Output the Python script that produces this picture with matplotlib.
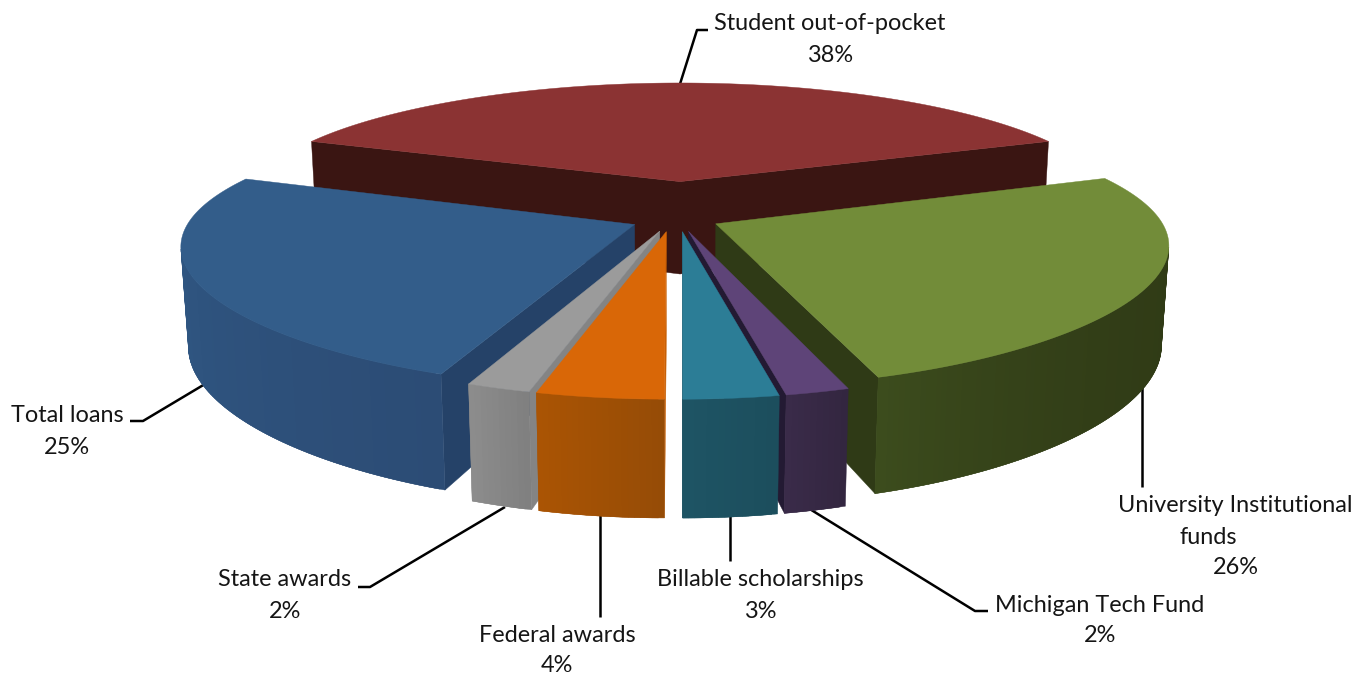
import numpy as np
import matplotlib
matplotlib.use("Agg")
import matplotlib.pyplot as plt
from matplotlib.colors import to_rgb

# Share of funding by source, clockwise from the back of the pie
categories = ["Student out-of-pocket", "University Institutional funds", "Michigan Tech Fund",
              "Billable scholarships", "Federal awards", "State awards", "Total loans"]
shares = [38, 26, 2, 3, 4, 2, 25]

# Appearance of each slice
explode = [0.30, 0.095, 0.10, 0.10, 0.10, 0.10, 0.115]
sideways = [0.0, -0.006, -0.006, -0.004, -0.018, -0.014, 0.004]
top_colors = ["#8B3333", "#728C39", "#5E4478", "#2C7D96", "#D96707", "#9B9B9B", "#335D8A"]
wall_colors = ["#3A1512", "#2F3A16", "#231A33", "#1C4F5E", "#C86005", "#848484", "#254268"]
rim_start = ["#3A1512", "#303B16", "#332640", "#1C4E5D", "#964C06", "#808080", "#2C4C75"]
rim_end = ["#3A1512", "#3C4C1D", "#3A2B49", "#1E5464", "#AA5404", "#8C8C8C", "#315B88"]
rim_power = [1, 4, 1, 1, 1, 1, 1]
draw_order = [0, 1, 6, 5, 4, 2, 3]

# Camera used to project the pie onto the page
CX, CY = 680.0, 218.5
FX, FY = 444.0, 130.0
PERSP = 0.19
PERSP_X, PERSP_X2 = 0.16, 0.03
THICK_Y, THICK_W = 98.5, 0.015


def project(x, y, down):
    w = 1 + PERSP * y + THICK_W * down
    wx = 1 + PERSP_X * y + PERSP_X2 * y * y + THICK_W * down
    return CX + FX * x / wx, CY + (-FY * y + THICK_Y * down) / w


def lerp(c1, c2, t):
    a, b = np.array(to_rgb(c1)), np.array(to_rgb(c2))
    return tuple(a + (b - a) * t)


def signed_area(poly):
    x, y = poly[:, 0], poly[:, 1]
    return 0.5 * np.sum(x * np.roll(y, -1) - np.roll(x, -1) * y)


fig = plt.figure(figsize=(13.70, 6.74), dpi=100)
ax = fig.add_axes([0, 0, 1, 1])
ax.set_xlim(0, 1370)
ax.set_ylim(674, 0)
ax.axis("off")

# Leader lines sit behind the slices
leaders = [
    [(680, 84), (697, 30), (708, 30)],
    [(1142, 385), (1142, 487)],
    [(800, 503), (975, 611), (988, 611)],
    [(730, 510), (730, 561)],
    [(600, 515), (600, 617)],
    [(505, 507), (370, 587), (358, 587)],
    [(205, 384), (143, 421), (130, 421)],
]
for pts in leaders:
    ax.plot(*zip(*pts), color="black", lw=1.8, solid_capstyle="butt", zorder=1)

# Slice angles run clockwise from the top, with the first slice centred there
fractions = np.array(shares) / np.sum(shares) * 360.0
starts = np.cumsum(np.r_[0.0, fractions[:-1]]) - fractions[0] / 2
z = 2


def face(poly, color):
    global z
    ax.fill(poly[:, 0], poly[:, 1], facecolor=color, edgecolor=color, lw=0.3, zorder=z)
    z += 1


for i in draw_order:
    t0, t1 = starts[i], starts[i] + fractions[i]
    mid = np.radians((t0 + t1) / 2)
    ox, oy = explode[i] * np.sin(mid) + sideways[i], explode[i] * np.cos(mid)
    th = np.radians(np.linspace(t0, t1, max(int((t1 - t0) * 1.5), 4) + 1))
    ex, ey = ox + np.sin(th), oy + np.cos(th)

    top = np.array([project(x, y, 0) for x, y in zip(ex, ey)])
    bottom = np.array([project(x, y, 1) for x, y in zip(ex, ey)])
    apex_t = np.array(project(ox, oy, 0))
    apex_b = np.array(project(ox, oy, 1))

    # Radial walls, drawn only when they face the camera
    wall_a = np.array([apex_t, top[0], bottom[0], apex_b])
    wall_b = np.array([top[-1], apex_t, apex_b, bottom[-1]])
    for wall in (wall_a, wall_b):
        if signed_area(wall) < 0:
            face(wall, wall_colors[i])

    # Outer rim as overlapping strips, shaded along the sweep of the slice
    n = len(th) - 1
    for j in range(n):
        k = min(j + 2, n)
        quad = np.vstack([top[j:k + 1], bottom[j:k + 1][::-1]])
        if signed_area(quad) < 0:
            t = (j / max(n - 1, 1)) ** rim_power[i]
            face(quad, lerp(rim_start[i], rim_end[i], t))

    face(np.vstack([apex_t, top]), top_colors[i])

# Data labels, one line at a time
label_lines = [
    (830, 24, categories[0]), (830, 55, f"{shares[0]}%"),
    (1235, 506, "University Institutional"), (1208, 537, "funds"), (1236, 568, f"{shares[1]}%"),
    (1100, 605, categories[2]), (1100, 636, f"{shares[2]}%"),
    (760, 580, categories[3]), (760, 611, f"{shares[3]}%"),
    (557, 635, categories[4]), (557, 666, f"{shares[4]}%"),
    (285, 580, categories[5]), (285, 611, f"{shares[5]}%"),
    (67, 416, categories[6]), (67, 447, f"{shares[6]}%"),
]
for x, y, s in label_lines:
    ax.text(x, y, s, ha="center", va="center", family="Lato", fontsize=16.9,
            color="#151515", zorder=200)

fig.savefig("out.png", dpi=100, facecolor="white")
